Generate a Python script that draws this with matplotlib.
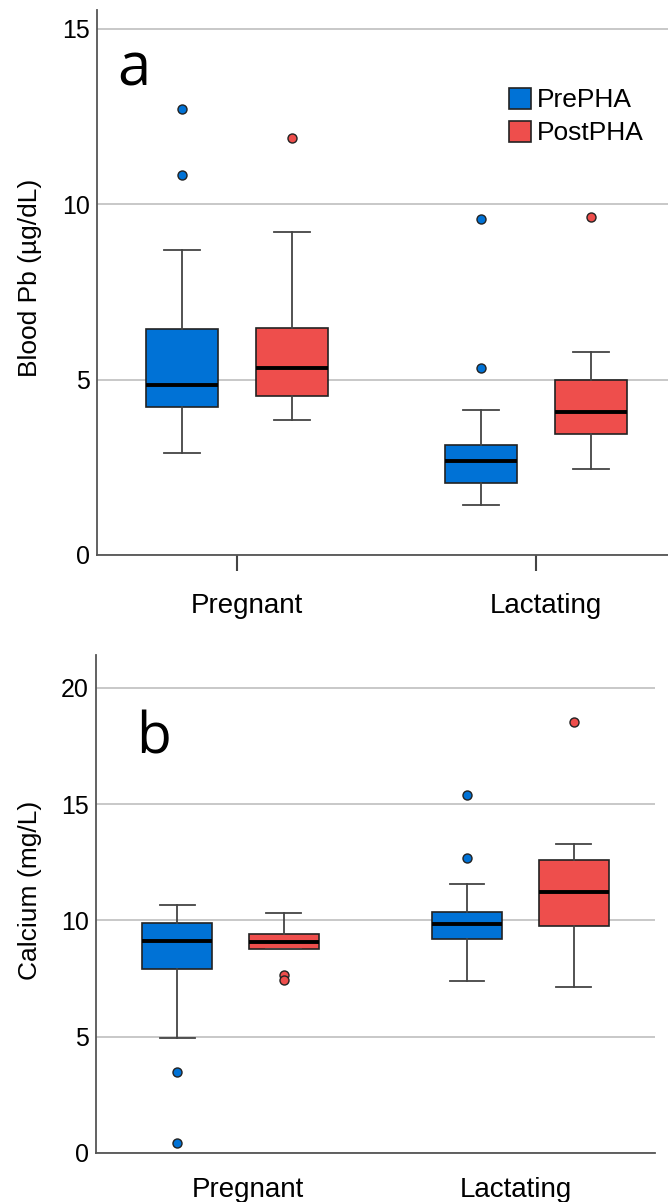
import matplotlib
matplotlib.use('Agg')
import matplotlib.pyplot as plt
import matplotlib.transforms as mtransforms
from matplotlib.patches import Patch

plt.rcParams['font.family'] = ['Liberation Sans', 'DejaVu Sans']

groups = ['Pregnant', 'Lactating']
series = ['PrePHA', 'PostPHA']
colors = ['#0072d6', '#ee4e4c']

# panel a - blood Pb (ug/dL), indexed [series][group]
pb_q1 = [[4.23, 2.06], [4.54, 3.46]]
pb_med = [[4.86, 2.69], [5.34, 4.09]]
pb_q3 = [[6.43, 3.14], [6.46, 5.00]]
pb_lo = [[2.91, 1.43], [3.86, 2.46]]
pb_hi = [[8.69, 4.14], [9.20, 5.80]]
pb_out = [[[12.71, 10.83], [9.57, 5.34]], [[11.89], [9.63]]]

# panel b - calcium (mg/L)
ca_q1 = [[7.91, 9.20], [8.77, 9.76]]
ca_med = [[9.12, 9.85], [9.08, 11.23]]
ca_q3 = [[9.89, 10.37], [9.42, 12.60]]
ca_lo = [[4.95, 7.40], [8.77, 7.14]]
ca_hi = [[10.67, 11.57], [10.32, 13.29]]
ca_out = [[[3.48, 0.43], [15.40, 12.69]], [[7.65, 7.44], [18.54]]]

offset = 0.184
width = 0.24


def draw(ax, q1, med, q3, lo, hi, out):
    for s in range(2):
        stats = []
        for g in range(2):
            stats.append(dict(med=med[s][g], q1=q1[s][g], q3=q3[s][g],
                              whislo=lo[s][g], whishi=hi[s][g], fliers=out[s][g]))
        pos = [g + (2 * s - 1) * offset for g in range(2)]
        ax.bxp(stats, positions=pos, widths=width, capwidths=width / 2,
               patch_artist=True, showfliers=True, manage_ticks=False,
               boxprops=dict(facecolor=colors[s], edgecolor='#222222', lw=1.2),
               medianprops=dict(color='black', lw=2.8),
               whiskerprops=dict(color='#444444', lw=1.3),
               capprops=dict(color='#444444', lw=1.3),
               flierprops=dict(marker='o', markerfacecolor=colors[s],
                               markeredgecolor='#222222', markersize=6.5, mew=1))
    ax.yaxis.grid(True, color='#c4c4c4', lw=1.3)
    ax.set_axisbelow(True)
    for sp in ['top', 'right']:
        ax.spines[sp].set_visible(False)
    for sp in ['left', 'bottom']:
        ax.spines[sp].set_color('#555555')
        ax.spines[sp].set_linewidth(1.3)
    ax.tick_params(axis='y', length=0, pad=5, labelsize=18)
    ax.set_xticks([0, 1], groups)


fig = plt.figure(figsize=(6.68, 12.02), dpi=100)
ax1 = fig.add_axes([0.1452, 0.5383, 0.8548, 0.4534])
ax2 = fig.add_axes([0.1437, 0.0408, 0.8368, 0.4143])

draw(ax1, pb_q1, pb_med, pb_q3, pb_lo, pb_hi, pb_out)
ax1.set_xlim(-0.468, 1.44)
ax1.set_ylim(0, 15.54)
ax1.set_yticks([0, 5, 10, 15])
ax1.tick_params(axis='x', length=11.5, width=1.5, color='#444444', pad=16, labelsize=20)
ax1.set_ylabel('Blood Pb (µg/dL)', fontsize=19)
ax1.yaxis.set_label_coords(-0.097, 0.508)
ax1.text(0.036, 0.861, 'a', transform=ax1.transAxes, fontsize=43,
         family='Open Sans', va='baseline', ha='left')
handles = [Patch(facecolor=c, edgecolor='#222222', lw=1.2) for c in colors]
ax1.legend(handles, series, loc='upper left', bbox_to_anchor=(0.722, 0.857),
           frameon=False, fontsize=19, handlelength=0.83, handleheight=0.83,
           handletextpad=0.2, labelspacing=0.32, borderpad=0, borderaxespad=0)
for lab in ax1.get_xticklabels():
    lab.set_transform(lab.get_transform() + mtransforms.ScaledTranslation(0.1, 0, fig.dpi_scale_trans))

draw(ax2, ca_q1, ca_med, ca_q3, ca_lo, ca_hi, ca_out)
ax2.set_xlim(-0.464, 1.464)
ax2.set_ylim(0, 21.42)
ax2.set_yticks([0, 5, 10, 15, 20])
ax2.tick_params(axis='x', length=0, pad=17, labelsize=20)
ax2.set_ylabel('Calcium (mg/L)', fontsize=19)
ax2.yaxis.set_label_coords(-0.097, 0.528)
ax2.text(0.071, 0.803, 'b', transform=ax2.transAxes, fontsize=41,
         family='Open Sans', va='baseline', ha='left')
shifts = [0.17, -0.05]
for lab, dx in zip(ax2.get_xticklabels(), shifts):
    lab.set_transform(lab.get_transform() + mtransforms.ScaledTranslation(dx, 0, fig.dpi_scale_trans))

fig.savefig('out.png', dpi=100)
